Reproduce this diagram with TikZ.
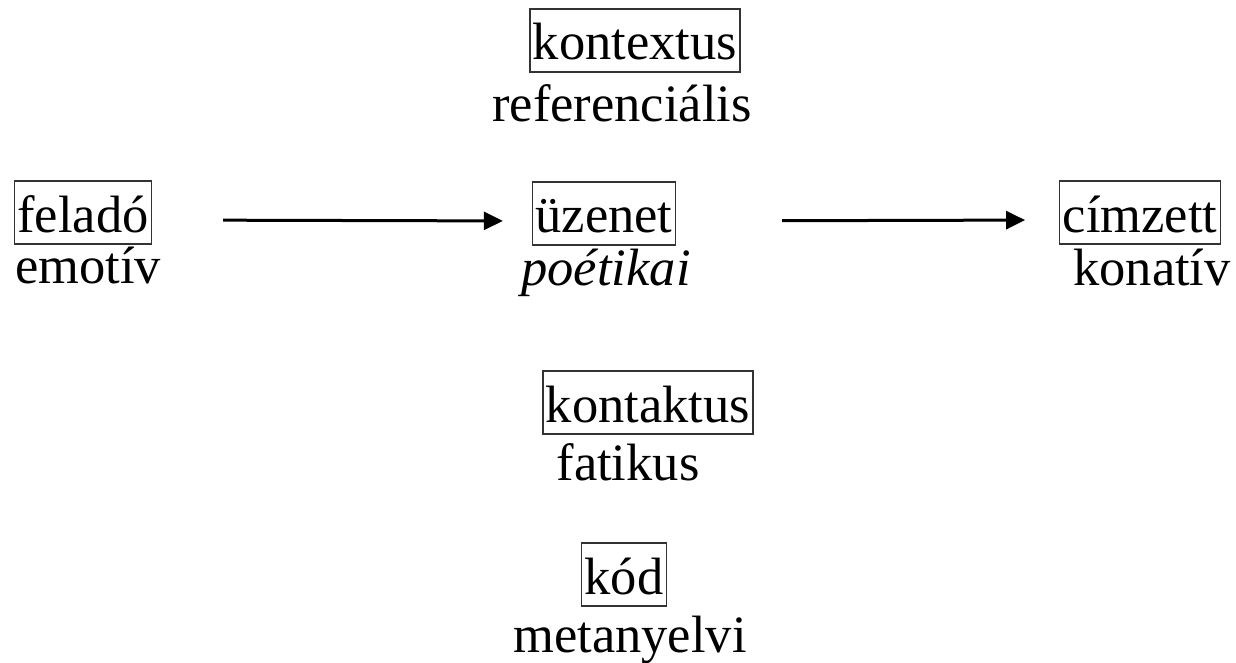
\documentclass[tikz,border=0pt]{standalone}
\usepackage{fontspec}
\setmainfont{Liberation Serif}
\usetikzlibrary{arrows.meta}
\begin{document}
\begin{tikzpicture}[x=1pt,y=-1pt,
  every node/.style={font=\fontsize{52.5}{60}\selectfont, anchor=base, inner sep=0pt},
  boxed/.style={draw=black!80, line width=1.3pt, inner xsep=3pt, inner ysep=0pt, text height=51pt, text depth=12pt},
  lbl/.style={},
  arr/.style={line width=3pt, -{Triangle[length=19pt,width=18pt]}}]
\path[use as bounding box, fill=white] (0,0) rectangle (1236,663);
\node[boxed] (felado) at (83,232) {feladó};
\node[lbl] (emotiv) at (88,283) {emotív};
\node[boxed] (kontextus) at (635,60) {kontextus};
\node[lbl] (ref) at (622,122) {referenciális};
\node[boxed] (uzenet) at (604,233) {üzenet};
\node[lbl] (poet) at (606,285) {\itshape poétikai};
\node[boxed] (cimzett) at (1140,232) {címzett};
\node[lbl] (konat) at (1152,285) {konatív};
\node[boxed] (kontaktus) at (648,422) {kontaktus};
\node[lbl] (fatikus) at (628,480) {fatikus};
\node[boxed] (kod) at (624,594) {kód};
\node[lbl] (meta) at (630,652) {metanyelvi};
\draw[arr, shorten <=71pt, shorten >=29pt] ([yshift=-7.5pt]felado.east) -- ([yshift=-7.5pt]uzenet.west);
\draw[arr, shorten <=106pt, shorten >=34pt] ([yshift=-7.5pt]uzenet.east) -- ([yshift=-7.5pt]cimzett.west);
\end{tikzpicture}
\end{document}
